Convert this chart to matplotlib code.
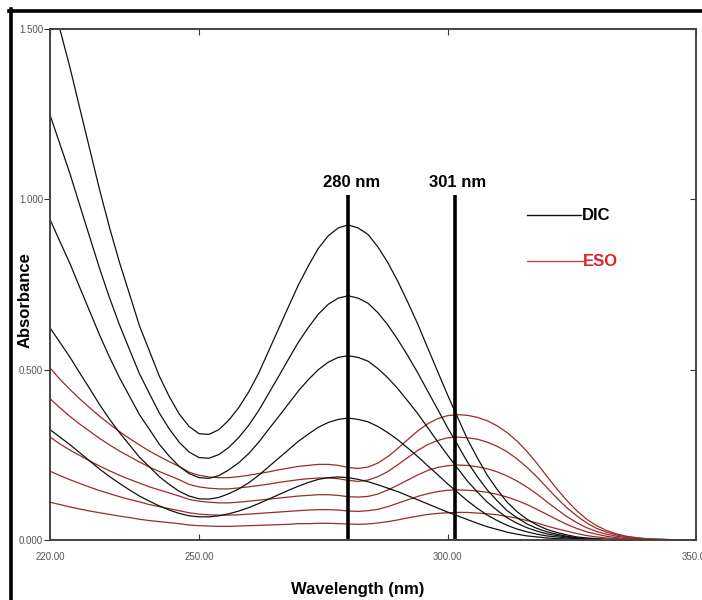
import matplotlib as mpl
mpl.use("Agg")
import matplotlib.pyplot as plt
from matplotlib.lines import Line2D
from matplotlib.ticker import FormatStrFormatter

#
# --- wavelength grid (nm)
#
WAVELENGTH = [220, 222, 224, 226, 228, 230, 232, 234, 236, 238,
              240, 242, 244, 246, 248, 250, 252, 254, 256, 258,
              260, 262, 264, 266, 268, 270, 272, 274, 276, 278,
              280, 282, 284, 286, 288, 290, 292, 294, 296, 298,
              300, 302, 304, 306, 308, 310, 312, 314, 316, 318,
              320, 322, 324, 326, 328, 330, 332, 334, 336, 338,
              340, 345, 350]

#
# --- DIC spectra (absorbance), highest to lowest concentration
#
DIC_1 = [1.610, 1.499, 1.388, 1.267, 1.147, 1.027, 0.916, 0.814, 0.722, 0.629,
         0.555, 0.481, 0.421, 0.370, 0.333, 0.312, 0.310, 0.324, 0.352, 0.389,
         0.435, 0.490, 0.555, 0.620, 0.685, 0.749, 0.805, 0.856, 0.893, 0.916,
         0.925, 0.916, 0.897, 0.860, 0.814, 0.759, 0.698, 0.634, 0.564, 0.495,
         0.426, 0.361, 0.296, 0.241, 0.190, 0.148, 0.111, 0.083, 0.061, 0.044,
         0.031, 0.022, 0.015, 0.009, 0.006, 0.004, 0.002, 0.001, 0.0, 0.0,
         0.0, 0.0, 0.0]
DIC_2 = [1.248, 1.162, 1.076, 0.982, 0.889, 0.796, 0.710, 0.631, 0.559, 0.488,
         0.430, 0.373, 0.326, 0.287, 0.258, 0.242, 0.240, 0.251, 0.272, 0.301,
         0.337, 0.380, 0.430, 0.480, 0.531, 0.581, 0.624, 0.663, 0.692, 0.710,
         0.717, 0.710, 0.695, 0.667, 0.631, 0.588, 0.541, 0.491, 0.437, 0.384,
         0.330, 0.280, 0.229, 0.186, 0.147, 0.115, 0.086, 0.065, 0.047, 0.034,
         0.024, 0.017, 0.011, 0.007, 0.004, 0.003, 0.001, 0.001, 0.0, 0.0,
         0.0, 0.0, 0.0]
DIC_3 = [0.941, 0.876, 0.812, 0.741, 0.671, 0.601, 0.536, 0.476, 0.422, 0.368,
         0.325, 0.281, 0.246, 0.216, 0.195, 0.183, 0.181, 0.189, 0.206, 0.227,
         0.254, 0.287, 0.325, 0.362, 0.400, 0.438, 0.471, 0.500, 0.522, 0.536,
         0.541, 0.536, 0.525, 0.503, 0.476, 0.444, 0.408, 0.371, 0.330, 0.289,
         0.249, 0.211, 0.173, 0.141, 0.111, 0.087, 0.065, 0.049, 0.036, 0.026,
         0.018, 0.013, 0.009, 0.005, 0.003, 0.002, 0.001, 0.0, 0.0, 0.0,
         0.0, 0.0, 0.0]
DIC_4 = [0.623, 0.580, 0.537, 0.490, 0.444, 0.397, 0.354, 0.315, 0.279, 0.243,
         0.215, 0.186, 0.163, 0.143, 0.129, 0.121, 0.120, 0.125, 0.136, 0.150,
         0.168, 0.190, 0.215, 0.240, 0.265, 0.290, 0.311, 0.331, 0.345, 0.354,
         0.358, 0.354, 0.347, 0.333, 0.315, 0.294, 0.270, 0.245, 0.218, 0.192,
         0.165, 0.140, 0.115, 0.093, 0.073, 0.057, 0.043, 0.032, 0.024, 0.017,
         0.012, 0.009, 0.006, 0.004, 0.002, 0.001, 0.0, 0.0, 0.0, 0.0,
         0.0, 0.0, 0.0]
DIC_5 = [0.324, 0.302, 0.280, 0.256, 0.232, 0.208, 0.186, 0.166, 0.147, 0.129,
         0.114, 0.100, 0.088, 0.078, 0.071, 0.068, 0.068, 0.071, 0.077, 0.085,
         0.095, 0.107, 0.120, 0.133, 0.146, 0.158, 0.169, 0.178, 0.183, 0.185,
         0.183, 0.178, 0.171, 0.162, 0.152, 0.142, 0.130, 0.118, 0.106, 0.094,
         0.082, 0.071, 0.060, 0.049, 0.039, 0.031, 0.023, 0.017, 0.012, 0.009,
         0.006, 0.004, 0.003, 0.002, 0.001, 0.001, 0.0, 0.0, 0.0, 0.0,
         0.0, 0.0, 0.0]

#
# --- ESO spectra (absorbance), highest to lowest concentration
#
ESO_1 = [0.505, 0.472, 0.442, 0.414, 0.388, 0.363, 0.340, 0.318, 0.298, 0.279,
         0.261, 0.245, 0.230, 0.216, 0.199, 0.190, 0.185, 0.183, 0.183, 0.186,
         0.190, 0.195, 0.200, 0.206, 0.211, 0.216, 0.219, 0.222, 0.222, 0.219,
         0.213, 0.210, 0.214, 0.226, 0.245, 0.269, 0.295, 0.320, 0.341, 0.356,
         0.365, 0.368, 0.366, 0.360, 0.350, 0.335, 0.315, 0.290, 0.260, 0.225,
         0.187, 0.150, 0.116, 0.086, 0.061, 0.042, 0.028, 0.018, 0.011, 0.007,
         0.004, 0.001, 0.0]
ESO_2 = [0.415, 0.388, 0.363, 0.340, 0.319, 0.298, 0.279, 0.261, 0.245, 0.229,
         0.214, 0.201, 0.189, 0.177, 0.163, 0.156, 0.152, 0.150, 0.150, 0.153,
         0.156, 0.160, 0.164, 0.169, 0.173, 0.177, 0.180, 0.182, 0.182, 0.180,
         0.175, 0.172, 0.176, 0.186, 0.201, 0.221, 0.242, 0.263, 0.280, 0.292,
         0.300, 0.302, 0.300, 0.296, 0.287, 0.275, 0.259, 0.238, 0.213, 0.185,
         0.154, 0.123, 0.095, 0.071, 0.050, 0.034, 0.023, 0.015, 0.009, 0.006,
         0.003, 0.001, 0.0]
ESO_3 = [0.302, 0.282, 0.264, 0.248, 0.232, 0.217, 0.203, 0.190, 0.178, 0.167,
         0.156, 0.147, 0.138, 0.129, 0.119, 0.114, 0.111, 0.109, 0.109, 0.111,
         0.114, 0.117, 0.120, 0.123, 0.126, 0.129, 0.131, 0.133, 0.133, 0.131,
         0.127, 0.126, 0.128, 0.135, 0.147, 0.161, 0.176, 0.191, 0.204, 0.213,
         0.218, 0.220, 0.219, 0.215, 0.209, 0.200, 0.188, 0.173, 0.155, 0.135,
         0.112, 0.090, 0.069, 0.051, 0.036, 0.025, 0.017, 0.011, 0.007, 0.004,
         0.002, 0.001, 0.0]
ESO_4 = [0.202, 0.189, 0.177, 0.166, 0.155, 0.145, 0.136, 0.127, 0.119, 0.112,
         0.104, 0.098, 0.092, 0.086, 0.080, 0.076, 0.074, 0.073, 0.073, 0.074,
         0.076, 0.078, 0.080, 0.082, 0.084, 0.086, 0.088, 0.089, 0.089, 0.088,
         0.085, 0.084, 0.086, 0.090, 0.098, 0.108, 0.118, 0.128, 0.136, 0.142,
         0.146, 0.147, 0.146, 0.144, 0.140, 0.134, 0.126, 0.116, 0.104, 0.090,
         0.075, 0.060, 0.046, 0.034, 0.024, 0.017, 0.011, 0.007, 0.004, 0.003,
         0.002, 0.0, 0.0]
ESO_5 = [0.111, 0.104, 0.097, 0.091, 0.085, 0.080, 0.075, 0.070, 0.066, 0.061,
         0.057, 0.054, 0.051, 0.048, 0.044, 0.042, 0.041, 0.040, 0.040, 0.041,
         0.042, 0.043, 0.044, 0.045, 0.046, 0.048, 0.048, 0.049, 0.049, 0.048,
         0.047, 0.046, 0.047, 0.050, 0.054, 0.059, 0.065, 0.070, 0.075, 0.078,
         0.080, 0.081, 0.081, 0.079, 0.077, 0.074, 0.069, 0.064, 0.057, 0.050,
         0.041, 0.033, 0.026, 0.019, 0.013, 0.009, 0.006, 0.004, 0.002, 0.001,
         0.001, 0.0, 0.0]

DIC_SERIES = [DIC_1, DIC_2, DIC_3, DIC_4, DIC_5]
ESO_SERIES = [ESO_1, ESO_2, ESO_3, ESO_4, ESO_5]

#
# --- marker lines and labels
#
MARK_POS = [280, 301.5]
MARK_LABELS = ["280 nm", "301 nm"]

X_TICKS = [220, 250, 300, 350]
Y_TICKS = [0.0, 0.5, 1.0, 1.5]

BOLD_FONT = ["Liberation Sans", "DejaVu Sans"]
TICK_FONT = ["Liberation Sans", "DejaVu Sans"]

DIC_COLOR = "#111111"
ESO_COLOR = "#9a2b2b"

fig = plt.figure(figsize=(7.02, 6.00), dpi=100)
ax = fig.add_axes([50 / 702, 1 - 540 / 600, 646 / 702, 511 / 600])

#
# --- spectra
#
for ys in ESO_SERIES:
    ax.plot(WAVELENGTH, ys, color=ESO_COLOR, lw=0.9)
for ys in DIC_SERIES:
    ax.plot(WAVELENGTH, ys, color=DIC_COLOR, lw=0.9)

#
# --- marker lines
#
for xpos, lab in zip(MARK_POS, MARK_LABELS):
    ax.plot([xpos, xpos], [0, 1.012], color="black", lw=2.6, solid_capstyle="butt")
    ax.text(xpos + 0.6, 1.05, lab, ha="center", va="center", fontsize=12,
            fontweight="bold", family=BOLD_FONT)

#
# --- hand drawn legend
#
ax.plot([316.0, 326.9], [0.953, 0.953], color=DIC_COLOR, lw=1.0)
ax.text(327.0, 0.953, "DIC", ha="left", va="center", fontsize=12,
        fontweight="bold", family=BOLD_FONT, color="black")
ax.plot([316.0, 327.2], [0.818, 0.818], color="#b84a4a", lw=1.0)
ax.text(327.3, 0.818, "ESO", ha="left", va="center", fontsize=12,
        fontweight="bold", family=BOLD_FONT, color="#e0202a")

ax.set_xlim(220, 350)
ax.set_ylim(0, 1.5)
ax.set_xticks(X_TICKS)
ax.set_yticks(Y_TICKS)
ax.xaxis.set_major_formatter(FormatStrFormatter("%.2f"))
ax.yaxis.set_major_formatter(FormatStrFormatter("%.3f"))
ax.tick_params(axis="x", direction="in", top=True, length=4, width=0.8,
               labelsize=7, labelcolor="#555555", pad=9, color="#333333")
ax.tick_params(axis="y", direction="out", length=4, width=0.8,
               labelsize=7, labelcolor="#555555", pad=1, color="#333333")
for lab in ax.get_xticklabels() + ax.get_yticklabels():
    lab.set_family(TICK_FONT)

#
# --- inward ticks on the right side
#
ax2 = ax.twinx()
ax2.set_ylim(0, 1.5)
ax2.set_yticks(Y_TICKS)
ax2.tick_params(axis="y", direction="in", length=4, width=0.8,
                labelright=False, color="#333333")

for a in (ax, ax2):
    for sp in a.spines.values():
        sp.set_color("#444444")
        sp.set_linewidth(1.2)

ax.set_xlabel("Wavelength (nm)", fontsize=12, fontweight="bold",
              family=BOLD_FONT, labelpad=14)
ax.set_ylabel("Absorbance", fontsize=12, fontweight="bold",
              family=BOLD_FONT, labelpad=2)
ax.xaxis.set_label_coords((358 - 50) / 646, -(582 - 540) / 511)
ax.yaxis.set_label_coords(-(50 - 33) / 646, (540 - 300) / 511)

#
# --- thick frame at top and left of the picture
#
fig.add_artist(Line2D([9 / 702, 1.0], [1 - 10.5 / 600, 1 - 10.5 / 600],
                      color="black", lw=2.6, transform=fig.transFigure))
fig.add_artist(Line2D([10.5 / 702, 10.5 / 702], [0.0, 1 - 9 / 600],
                      color="black", lw=2.6, transform=fig.transFigure))

fig.savefig("out.png", dpi=100)
